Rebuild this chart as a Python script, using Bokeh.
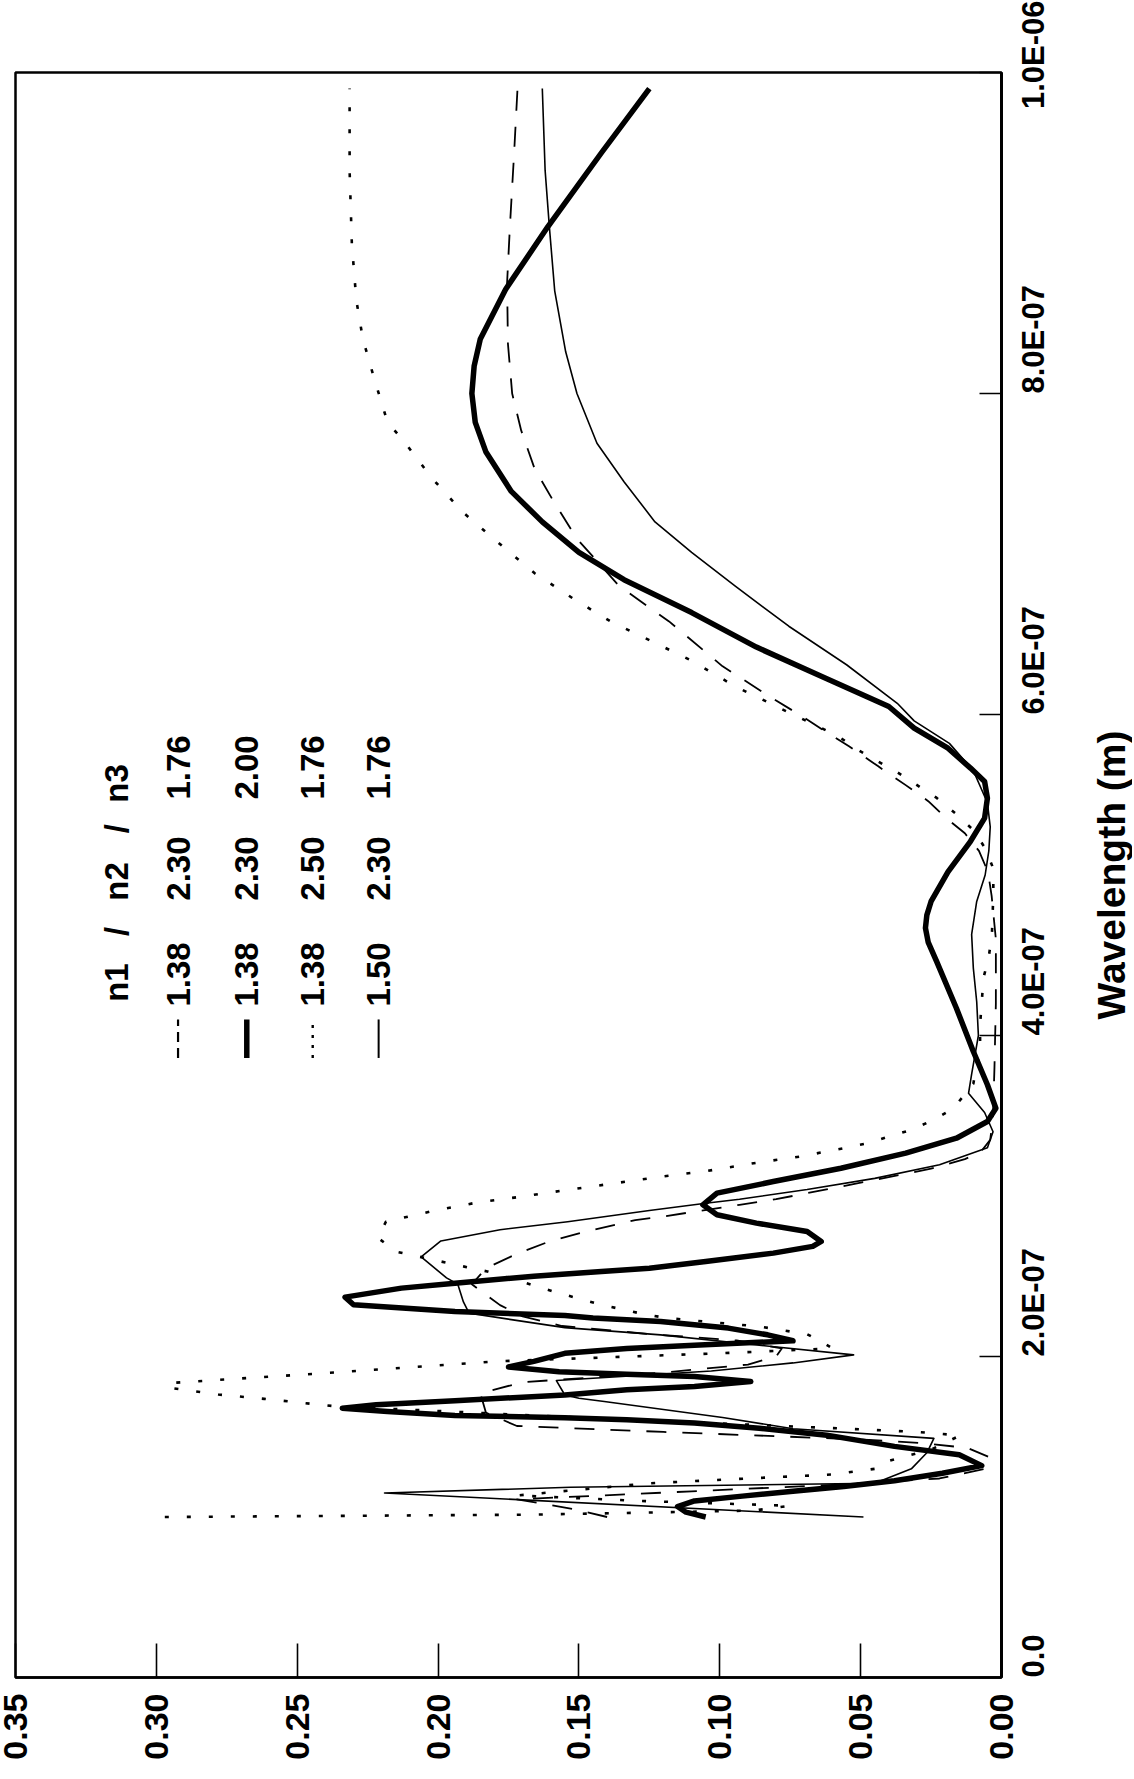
import math
from bokeh.plotting import figure
from bokeh.layouts import row
from bokeh.models import Range1d, FixedTicker, NumeralTickFormatter, Label
from bokeh.embed import file_html
from bokeh.resources import INLINE

# ---- data: (wavelength in nm, reflectance) ----
thick = [(100, 0.105), (103, 0.112), (106.5, 0.115), (110, 0.109), (113, 0.092), (116, 0.074),
         (119, 0.056), (122.6, 0.038), (127.3, 0.021), (132, 0.007), (138.8, 0.015), (144, 0.038),
         (151, 0.062), (155.3, 0.086), (158.5, 0.109), (160.6, 0.133), (161.8, 0.155), (163.3, 0.194),
         (165.7, 0.218), (167.8, 0.234), (170, 0.222), (172.5, 0.194), (176, 0.155), (179.3, 0.133),
         (181.3, 0.109), (184.4, 0.089), (187.5, 0.109), (189, 0.133), (190.5, 0.157), (193.5, 0.175),
         (197, 0.166), (202, 0.155), (205, 0.133), (207, 0.109), (209.8, 0.074), (213.5, 0.083),
         (217.7, 0.097), (221.8, 0.121), (224, 0.145), (225.5, 0.155), (228, 0.194), (232.2, 0.230),
         (237, 0.233), (242.6, 0.213), (245.7, 0.194), (250, 0.166), (253, 0.142), (255, 0.125),
         (259.2, 0.105), (264.4, 0.081), (268.6, 0.067), (271.7, 0.064), (277.9, 0.069), (283.1, 0.087),
         (288.3, 0.101), (294.5, 0.106), (301.8, 0.101), (309, 0.081), (317.3, 0.057), (326.7, 0.034),
         (336, 0.016), (346.4, 0.005), (354.7, 0.002), (369.3, 0.005), (390, 0.010), (417, 0.016),
         (446, 0.023), (458, 0.026), (467, 0.027), (475, 0.0265), (483.5, 0.025), (502, 0.019),
         (521, 0.011), (535.4, 0.006), (547.9, 0.005), (558.3, 0.006), (566.6, 0.011), (579, 0.019),
         (591.5, 0.031), (605, 0.040), (623, 0.063), (642, 0.087), (663.5, 0.110), (684, 0.134),
         (701, 0.150), (720, 0.163), (739, 0.174), (763.5, 0.183), (782, 0.1868), (800, 0.188),
         (817, 0.1872), (834, 0.185), (865, 0.176), (904, 0.161), (950, 0.142), (990, 0.125)]

thin = [(100, 0.049), (115, 0.219), (118.5, 0.153), (121, 0.045), (130, 0.032), (140, 0.0265),
        (149, 0.024), (155, 0.074), (162, 0.099), (172, 0.141), (174, 0.150), (176, 0.155),
        (185, 0.158), (191, 0.103), (196, 0.074), (201, 0.0525), (207, 0.086), (213.5, 0.121),
        (218, 0.155), (223, 0.174), (227, 0.189), (234, 0.191), (245, 0.193), (249, 0.197),
        (262, 0.206), (272, 0.199), (279, 0.178), (284, 0.154), (291, 0.125), (295.5, 0.105),
        (298, 0.093), (304, 0.069), (311, 0.045), (319.5, 0.022), (330, 0.005), (340, 0.003),
        (352, 0.006), (364, 0.0117), (376, 0.0106), (400, 0.0082), (421, 0.0088), (442, 0.010),
        (463, 0.0106), (483.5, 0.0088), (500, 0.0058), (515, 0.0045), (530, 0.004), (545, 0.005),
        (565, 0.010), (582, 0.0185), (596, 0.031), (607, 0.037), (631, 0.055), (655, 0.0755),
        (680, 0.0945), (701, 0.110), (720, 0.123), (745, 0.134), (769, 0.1436), (800, 0.1507),
        (826, 0.1547), (864, 0.1586), (904, 0.1605), (939, 0.162), (990, 0.163)]

dashed = [(100, 0.14), (105, 0.152), (111, 0.172), (116, 0.11), (120, 0.06), (124, 0.022),
          (130, 0.006), (137, 0.004), (143, 0.012), (146, 0.028), (148, 0.047), (150, 0.075),
          (153, 0.12), (156.7, 0.172), (165, 0.183), (177, 0.185), (184, 0.17), (190, 0.12),
          (195, 0.09), (200, 0.08), (205, 0.078), (210, 0.094), (214, 0.125), (219, 0.156),
          (225, 0.17), (232, 0.178), (245, 0.188), (255, 0.183), (264, 0.172), (272, 0.16),
          (278.5, 0.146), (285, 0.13), (287, 0.121), (294.5, 0.093), (298, 0.08), (310, 0.045),
          (317, 0.025), (323, 0.013), (327, 0.0076), (335, 0.004), (350, 0.003), (380, 0.0025),
          (420, 0.002), (460, 0.002), (487, 0.0035), (502, 0.0048), (515, 0.008), (526, 0.013),
          (536, 0.020), (546, 0.026), (556, 0.034), (568, 0.044), (580, 0.054), (590, 0.063),
          (598, 0.070), (612, 0.083), (630, 0.099), (658, 0.118), (680, 0.1357), (709.5, 0.1507),
          (734, 0.1594), (753, 0.1657), (777, 0.1705), (800, 0.1737), (831, 0.1752), (869, 0.1755),
          (904, 0.1745), (950, 0.173), (990, 0.1718)]

dotted = [(100, 0.297), (101.5, 0.165), (104, 0.088), (107, 0.075), (110, 0.128), (113.4, 0.172),
          (117, 0.15), (121, 0.125), (124, 0.09), (126.5, 0.06), (130, 0.045), (134, 0.042),
          (142, 0.025), (150.8, 0.0147), (153, 0.03), (155, 0.055), (162, 0.15), (169, 0.2365),
          (173.6, 0.2617), (176.3, 0.278), (180.3, 0.2947), (183.4, 0.296), (190, 0.237), (197, 0.179),
          (202, 0.10), (205, 0.06), (208.3, 0.063), (213.9, 0.069), (218.6, 0.0856), (224, 0.119),
          (226.4, 0.127), (232.2, 0.142), (236.3, 0.1506), (240.5, 0.159), (253, 0.1825), (256, 0.1907),
          (259.2, 0.199), (265.4, 0.215), (274, 0.2214), (284, 0.2185), (290.4, 0.2025), (296, 0.186),
          (299.7, 0.170), (303.9, 0.1537), (308, 0.137), (312, 0.121), (315.6, 0.1045), (320.4, 0.088),
          (324.6, 0.0714), (329.8, 0.056), (333, 0.0472), (337, 0.0401), (341.3, 0.0318), (347.5, 0.0241),
          (354.7, 0.017), (370, 0.010), (392, 0.0076), (406.7, 0.0076), (421, 0.007), (436, 0.0064),
          (448, 0.0046), (463, 0.0034), (488, 0.0029), (504, 0.0029), (516.7, 0.0058), (528, 0.010),
          (538.6, 0.0165), (548, 0.023), (564, 0.037), (577.6, 0.0507), (586.5, 0.058), (604, 0.0787),
          (617.5, 0.0945), (633.8, 0.1103), (644.6, 0.123), (658, 0.1388), (671.6, 0.1515), (688, 0.1657),
          (706.7, 0.1784), (725.7, 0.191), (747.3, 0.2022), (769, 0.2116), (782.4, 0.218), (809.5, 0.2227),
          (834, 0.2267), (858, 0.229), (893, 0.2306), (939, 0.2314), (990, 0.2314)]

wl_ticks = [0, 200, 400, 600, 800, 1000]
wl_tick_labels = ["0.0", "2.0E-07", "4.0E-07", "6.0E-07", "8.0E-07", "1.0E-06"]
r_ticks = [0.00, 0.05, 0.10, 0.15, 0.20, 0.25, 0.30, 0.35]

legend_header = ["n1", "/", "n2", "/", "n3"]
legend_rows = [["1.38", "2.30", "1.76"],
               ["1.38", "2.30", "2.00"],
               ["1.38", "2.50", "1.76"],
               ["1.50", "2.30", "1.76"]]
axis_title = "Wavelength (m)"

TOP, BOTTOM = 72, 99
wl_range = Range1d(0, 1000)

# ---- main figure ----
p = figure(width=1082, height=1776, x_range=Range1d(0.35, 0.0), y_range=wl_range,
           y_axis_location="right", output_backend="svg", toolbar_location=None,
           min_border_left=15, min_border_right=81, min_border_top=TOP, min_border_bottom=BOTTOM)
p.grid.visible = False
p.outline_line_color = "black"
p.outline_line_width = 2.5
p.background_fill_color = "white"
p.border_fill_color = "white"

xa = p.xaxis[0]
xa.ticker = FixedTicker(ticks=r_ticks)
xa.formatter = NumeralTickFormatter(format="0.00")
xa.major_label_orientation = math.pi / 2
xa.major_tick_in = 34
xa.major_tick_out = 0
xa.minor_tick_in = 0
xa.minor_tick_out = 0
xa.major_tick_line_width = 1.6
xa.axis_line_width = 2.5
xa.major_label_standoff = 16
xa.major_label_text_font = "Liberation Sans"
xa.major_label_text_font_style = "bold"
xa.major_label_text_font_size = "34px"
xa.major_label_text_color = "black"

ya = p.yaxis[0]
ya.ticker = FixedTicker(ticks=wl_ticks)
ya.major_label_overrides = dict(zip(wl_ticks, wl_tick_labels))
ya.major_label_orientation = math.pi / 2
ya.major_tick_in = 22
ya.major_tick_out = 0
ya.minor_tick_in = 0
ya.minor_tick_out = 0
ya.major_tick_line_width = 1.6
ya.axis_line_width = 3
ya.major_label_standoff = 32
ya.major_label_text_font = "Liberation Sans"
ya.major_label_text_font_style = "bold"
ya.major_label_text_font_size = "31px"
ya.major_label_text_color = "black"

styles = [
    dict(data=dashed, line_width=1.8, line_dash="20 16", sample_dash="10 6", sample_width=2.2),
    dict(data=thick, line_width=5.5, line_dash="solid", sample_dash="solid", sample_width=5.5),
    dict(data=dotted, line_width=2.6, line_dash="4 18", sample_dash="3 7", sample_width=2.4),
    dict(data=thin, line_width=1.6, line_dash="solid", sample_dash="solid", sample_width=2.0),
]
for st in styles:
    wl, rr = zip(*st["data"])
    p.line(list(rr), list(wl), line_color="black", line_width=st["line_width"],
           line_dash=st["line_dash"], line_join="round")

# ---- rotated legend ----
header_r = 0.3143
row_r = [0.2923, 0.2679, 0.2445, 0.2211]
header_wl = [421, 462, 484, 526, 545]
col_wl = [418, 484, 547]
sample_wl = (386, 410)
font_kw = dict(text_font="Liberation Sans", text_font_style="bold", text_font_size="33px",
               text_color="black", angle=math.pi / 2, text_align="left", text_baseline="middle")
for t, w in zip(legend_header, header_wl):
    p.add_layout(Label(x=header_r, y=w, text=t, **font_kw))
for r, row_vals, st in zip(row_r, legend_rows, styles):
    for t, w in zip(row_vals, col_wl):
        p.add_layout(Label(x=r, y=w, text=t, **font_kw))
    p.segment(x0=[r], y0=[sample_wl[0]], x1=[r], y1=[sample_wl[1]], line_color="black",
              line_width=st["sample_width"], line_dash=st["sample_dash"])

# ---- narrow strip holding the rotated axis title (reads upward) ----
p2 = figure(width=50, height=1776, x_range=Range1d(0, 1), y_range=wl_range,
            x_axis_location=None, y_axis_location=None, output_backend="svg",
            toolbar_location=None, min_border_left=0, min_border_right=0,
            min_border_top=TOP, min_border_bottom=BOTTOM)
p2.grid.visible = False
p2.outline_line_color = None
p2.background_fill_color = "white"
p2.border_fill_color = "white"
p2.add_layout(Label(x=0.58, y=500, text=axis_title, angle=math.pi / 2, text_align="center",
                    text_baseline="middle", text_font="Liberation Sans", text_font_style="bold",
                    text_font_size="39px", text_color="black"))

layout = row(p, p2, spacing=0)
open("out.html", "w").write(file_html(layout, INLINE))
